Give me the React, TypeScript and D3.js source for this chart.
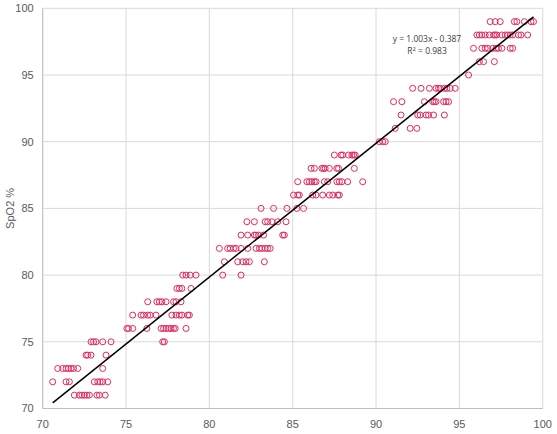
import React from 'react';
import * as d3 from 'd3';

// one row of readings per SpO2 level (y), x values
const rowLevels = [71, 72, 73, 74, 75, 76, 77, 78, 79, 80, 81, 82, 83, 84, 85, 86, 87, 88, 89, 90, 91, 92, 93, 94, 95, 96, 97, 98, 99];

const rowValues: number[][] = [
  [71.9, 72.2, 72.35, 72.5, 72.65, 72.8, 73.25, 73.4, 73.75],
  [70.6, 71.4, 71.6, 73.1, 73.3, 73.45, 73.6, 73.9],
  [70.9, 71.2, 71.4, 71.55, 71.7, 71.85, 72.1, 73.6],
  [72.6, 72.7, 72.9, 73.8],
  [72.9, 73.05, 73.2, 73.6, 74.1, 77.2, 77.3],
  [75.05, 75.15, 75.4, 76.25, 77.1, 77.25, 77.4, 77.55, 77.7, 77.85, 77.95, 78.6],
  [75.4, 75.9, 76.05, 76.3, 76.45, 76.8, 77.75, 78.0, 78.2, 78.35, 78.7, 78.8],
  [76.3, 76.85, 77.0, 77.15, 77.4, 77.85, 78.0, 78.3],
  [78.05, 78.2, 78.35, 78.9],
  [78.4, 78.6, 78.85, 79.2, 80.8, 81.9],
  [80.9, 81.7, 82.0, 82.2, 82.4, 83.3],
  [80.6, 81.1, 81.25, 81.45, 81.6, 81.9, 82.3, 82.8, 83.0, 83.15, 83.35, 83.5, 83.65],
  [81.9, 82.3, 82.7, 82.8, 82.95, 83.25, 84.4, 84.5],
  [82.25, 82.7, 83.35, 83.5, 83.75, 84.1, 84.6],
  [83.1, 83.85, 84.65, 85.25, 85.65],
  [85.05, 85.3, 85.4, 86.2, 86.4, 86.8, 87.2, 87.4, 87.7, 87.8],
  [85.3, 85.85, 86.0, 86.15, 86.3, 86.4, 86.9, 87.1, 87.65, 87.8, 87.95, 88.3, 89.2],
  [86.1, 86.3, 86.75, 86.85, 86.95, 87.2, 87.65, 87.75, 88.7],
  [87.5, 87.9, 88.0, 88.35, 88.55, 88.65, 88.75],
  [90.2, 90.4, 90.55],
  [91.15, 92.05, 92.45],
  [91.5, 92.5, 92.65, 93.0, 93.15, 93.45, 94.1],
  [91.05, 91.55, 92.9, 93.4, 93.5, 93.6, 94.05, 94.2, 94.35],
  [92.2, 92.7, 93.2, 93.6, 93.75, 93.85, 94.1, 94.25, 94.45, 94.75],
  [95.55],
  [96.2, 96.45, 97.1],
  [95.85, 96.35, 96.55, 96.7, 97.0, 97.2, 97.35, 97.55, 98.05, 98.2],
  [96.05, 96.2, 96.35, 96.55, 96.8, 97.05, 97.15, 97.25, 97.55, 97.75, 97.9, 98.05, 98.2, 98.55, 98.7, 99.1],
  [96.85, 97.15, 97.45, 98.3, 98.45, 98.9, 99.3, 99.45],
];

const xTicks = [70, 75, 80, 85, 90, 95, 100];
const yTicks = [70, 75, 80, 85, 90, 95, 100];

const slope = 1.003;
const intercept = -0.387;
const equationText = 'y = 1.003x  - 0.387';
const rSquaredText = '0.983';
const yAxisLabel = 'SpO2 %';

const width = 557;
const height = 434;
const margin = { top: 8.3, right: 14.3, bottom: 25.5, left: 42.7 };

const App: React.FC = () => {
  const x = d3.scaleLinear().domain([70, 100]).range([margin.left, width - margin.right]);
  const y = d3.scaleLinear().domain([70, 100]).range([height - margin.bottom, margin.top]);

  const points = rowLevels.flatMap((level, i) => rowValues[i].map(v => ({ x: v, y: level })));
  const xExtent = d3.extent(points, d => d.x) as [number, number];

  const line = d3.line<number>()
    .x(d => x(d))
    .y(d => y(slope * d + intercept));

  const gridColor = '#d9d9d9';
  const tickColor = '#595959';
  const tickFont = '"Liberation Sans", Arial, sans-serif';

  return (
    <svg width={width} height={height} style={{ position: 'absolute', left: 0, top: 0, background: '#fff' }}>
      {/* grid */}
      {xTicks.map(t => (
        <line key={'gx' + t} x1={x(t)} x2={x(t)} y1={y(70)} y2={y(100)} stroke={gridColor} strokeWidth={1} />
      ))}
      {yTicks.map(t => (
        <line key={'gy' + t} x1={x(70)} x2={x(100)} y1={y(t)} y2={y(t)} stroke={gridColor} strokeWidth={1} />
      ))}
      <line x1={x(70)} x2={x(70)} y1={y(70)} y2={y(100)} stroke="#bfbfbf" />
      <line x1={x(70)} x2={x(100)} y1={y(70)} y2={y(70)} stroke="#bfbfbf" />

      {/* tick labels */}
      {xTicks.map(t => (
        <text key={'tx' + t} x={x(t)} y={y(70) + 19} textAnchor="middle" fontSize={11} fill={tickColor} fontFamily={tickFont}>
          {t}
        </text>
      ))}
      {yTicks.map(t => (
        <text key={'ty' + t} x={x(70) - 9} y={y(t)} dy="0.35em" textAnchor="end" fontSize={11} fill={tickColor} fontFamily={tickFont}>
          {t}
        </text>
      ))}
      <text
        transform={`translate(14,${(y(70) + y(100)) / 2}) rotate(-90)`}
        textAnchor="middle"
        fontSize={11}
        fill={tickColor}
        fontFamily={tickFont}
      >
        {yAxisLabel}
      </text>

      {/* points */}
      {points.map((d, i) => (
        <circle key={i} cx={x(d.x)} cy={y(d.y)} r={3} fill="none" stroke="#e3295d" strokeWidth={1} />
      ))}

      {/* trend line */}
      <path d={line(xExtent) || ''} fill="none" stroke="#000" strokeWidth={1.5} />

      {/* equation */}
      <text x={427} y={42} textAnchor="middle" fontSize={8.5} fill="#404040" fontFamily='"Open Sans", sans-serif'>
        {equationText}
      </text>
      <text x={427} y={54} textAnchor="middle" fontSize={8.5} fill="#404040" fontFamily='"Open Sans", sans-serif'>
        R<tspan dy={-3} fontSize={6}>2</tspan><tspan dy={3}> = {rSquaredText}</tspan>
      </text>
    </svg>
  );
};

export default App;
